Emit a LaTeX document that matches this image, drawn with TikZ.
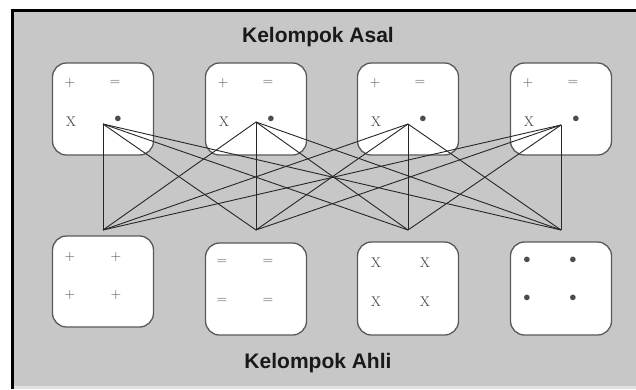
\documentclass[tikz,border=0pt]{standalone}
\usepackage{fontspec}
\setsansfont{Liberation Sans}
\begin{document}
\begin{tikzpicture}[x=1pt,y=-1pt,
  grp/.style={draw=black!65, line width=1.3pt, fill=white, rounded corners=14pt, minimum width=101pt, inner sep=0pt},
  sym/.style={text=black!70, font=\fontsize{14}{14}\selectfont, inner sep=0pt},
  title/.style={font=\sffamily\bfseries\fontsize{21}{21}\selectfont, text=black!90, inner sep=0pt},
  link/.style={draw=black!85, line width=0.9pt}]
\useasboundingbox (0,0) rectangle (636,389);
\fill[white] (0,0) rectangle (636,389);
\fill[black!22] (12,10) rectangle (636,386);
\fill[black!12] (12,386) rectangle (636,389);
\draw[line width=3pt, black] (12,389) -- (12,10) -- (636,10);
\node[title] (asal) at (318,37) {Kelompok Asal};
\node[title] (ahli) at (318,363) {Kelompok Ahli};
% top boxes
\foreach \i/\x in {1/103,2/256,3/408,4/561}{
  \node[grp, minimum height=92pt] (t\i) at (\x,109) {};
  \node[sym] (tp\i) at (\x-33,83) {+};
  \node[sym] (te\i) at (\x+12,83) {=};
  \node[sym] (tx\i) at (\x-32,122) {X};
  \node[sym] (td\i) at (\x+15,119) {$\bullet$};
}
% bottom boxes
\node[grp, minimum height=91pt] (b1) at (103,281.5) {};
\node[grp, minimum height=92pt] (b2) at (256,289) {};
\node[grp, minimum height=93pt] (b3) at (408,288.5) {};
\node[grp, minimum height=93pt] (b4) at (561,288.5) {};
\foreach \p/\q in {70/257,116/257,70/295,116/295}{ \node[sym] at (\p,\q) {+}; }
\foreach \p/\q in {222/262,268/262,222/301,268/301}{ \node[sym] at (\p,\q) {=}; }
\foreach \p/\q in {376/263,425/263,376/302,425/302}{ \node[sym] at (\p,\q) {X}; }
\foreach \p/\q in {527/260,573/260,527/298,573/298}{ \node[sym] at (\p,\q) {$\bullet$}; }
% hubs
\coordinate (th1) at (103,124);
\coordinate (th2) at (256,122);
\coordinate (th3) at (408,124);
\coordinate (th4) at (561,125);
\coordinate (bh1) at (103,230);
\coordinate (bh2) at (256,230);
\coordinate (bh3) at (408,230);
\coordinate (bh4) at (561,230);
\foreach \i in {1,2,3,4}{
  \foreach \j in {1,2,3,4}{
    \draw[link] (th\i) -- (bh\j);
  }
}
\end{tikzpicture}
\end{document}
